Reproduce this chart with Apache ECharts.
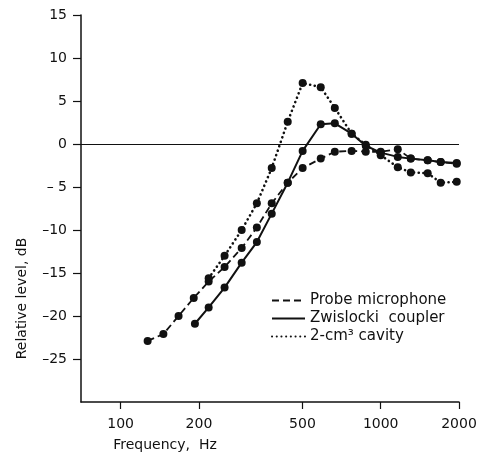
<!DOCTYPE html>
<html>
<head>
<meta charset="utf-8">
<script src="https://cdn.jsdelivr.net/npm/echarts@6/dist/echarts.min.js"></script>
<style>
  html, body { margin: 0; padding: 0; background: #fff; }
  #chart { width: 484px; height: 457px; }
</style>
</head>
<body>
<div id="chart"></div>
<script>
// values (frequency in Hz, level in dB)
const probeFreq = [127, 146, 167, 191, 218, 251, 292, 334, 381, 439, 501, 588, 666, 773, 876, 1000, 1163, 1305, 1516, 1701, 1960];
const probeLevel = [-22.9, -22.1, -20.0, -17.9, -16.0, -14.3, -12.1, -9.7, -6.9, -4.5, -2.8, -1.7, -0.9, -0.8, -0.9, -0.9, -0.6, -1.7, -1.9, -2.1, -2.3];

const couplerFreq = [193, 218, 251, 292, 334, 381, 439, 501, 588, 666, 773, 876, 1000, 1163, 1305, 1516, 1701, 1960];
const couplerLevel = [-20.9, -19.0, -16.7, -13.8, -11.4, -8.1, -4.5, -0.8, 2.3, 2.4, 1.2, -0.2, -1.0, -1.5, -1.7, -1.9, -2.1, -2.2];

const cavityFreq = [218, 251, 292, 334, 381, 439, 501, 588, 666, 773, 876, 1000, 1163, 1305, 1516, 1701, 1960];
const cavityLevel = [-15.6, -13.0, -10.0, -6.9, -2.8, 2.6, 7.1, 6.6, 4.2, 1.2, -0.1, -1.3, -2.7, -3.3, -3.4, -4.5, -4.4];

const freqTicks = [100, 200, 500, 1000, 2000];
const levelTicks = [-25, -20, -15, -10, -5, 0, 5, 10, 15];

const ink = '#111';
const font = 'DejaVu Sans, sans-serif';

function pairs(xs, ys) {
  return xs.map((x, i) => [x, ys[i]]);
}

const chart = echarts.init(document.getElementById('chart'));

const option = {
  animation: false,
  backgroundColor: '#fff',
  grid: { left: 81, right: 25, top: 15, bottom: 54 },
  legend: {
    orient: 'vertical',
    left: 266,
    top: 288,
    itemWidth: 33,
    itemHeight: 14,
    itemGap: 3,
    itemStyle: { opacity: 0 },
    textStyle: { color: ink, fontSize: 15, fontFamily: font },
    data: ['Probe microphone', 'Zwislocki  coupler', '2-cm³ cavity']
  },
  xAxis: {
    type: 'log',
    min: 70.4,
    max: 2000,
    name: 'Frequency,  Hz',
    nameLocation: 'middle',
    nameGap: 36,
    nameTextStyle: { color: ink, fontSize: 14, fontFamily: font, padding: [0, 210, 0, 0] },
    axisLine: { onZero: false, lineStyle: { color: ink, width: 1.5 } },
    axisTick: { inside: false, customValues: freqTicks, length: 7, lineStyle: { color: ink, width: 1.2 } },
    axisLabel: {
      customValues: freqTicks,
      margin: 15,
      color: ink,
      fontSize: 14,
      fontFamily: font,
      formatter: function (v) { return String(v); }
    },
    splitLine: { show: false }
  },
  yAxis: {
    type: 'value',
    min: -30,
    max: 15,
    interval: 5,
    name: 'Relative level, dB',
    nameLocation: 'middle',
    nameGap: 52,
    nameTextStyle: { color: ink, fontSize: 14, fontFamily: font, padding: [0, 180, 0, 0] },
    axisLine: { onZero: false, lineStyle: { color: ink, width: 1.5 } },
    axisTick: { inside: false, customValues: levelTicks, length: 8, lineStyle: { color: ink, width: 1.2 } },
    axisLabel: {
      customValues: levelTicks,
      margin: 14,
      color: ink,
      fontSize: 14,
      fontFamily: font,
      formatter: function (v) {
        if (v >= 0) return String(v);
        return v > -10 ? '\u2013 ' + (-v) : '\u2013' + (-v);
      }
    },
    splitLine: { show: false }
  },
  series: [
    {
      name: 'Probe microphone',
      type: 'line',
      data: pairs(probeFreq, probeLevel),
      symbol: 'circle',
      symbolSize: 8,
      itemStyle: { color: ink },
      lineStyle: { color: ink, width: 1.8, type: [7, 4] },
      markLine: {
        silent: true,
        symbol: 'none',
        label: { show: false },
        lineStyle: { color: ink, width: 1.2, type: 'solid' },
        data: [{ yAxis: 0 }]
      }
    },
    {
      name: 'Zwislocki  coupler',
      type: 'line',
      data: pairs(couplerFreq, couplerLevel),
      symbol: 'circle',
      symbolSize: 8,
      itemStyle: { color: ink },
      lineStyle: { color: ink, width: 2, type: 'solid' }
    },
    {
      name: '2-cm³ cavity',
      type: 'line',
      data: pairs(cavityFreq, cavityLevel),
      symbol: 'circle',
      symbolSize: 8,
      itemStyle: { color: ink },
      lineStyle: { color: ink, width: 2.6, type: [0.1, 4.6], cap: 'round' }
    }
  ]
};

chart.setOption(option);
window.addEventListener('resize', chart.resize);
</script>
</body>
</html>
